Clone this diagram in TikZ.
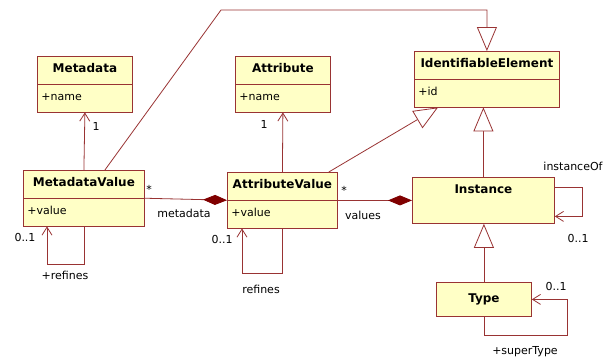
\documentclass[tikz,border=0pt]{standalone}
\usepackage{fontspec}
\setmainfont{DejaVu Sans}
\usetikzlibrary{arrows.meta,positioning,shapes.multipart,calc}
\definecolor{umlline}{HTML}{993333}
\definecolor{umlfill}{HTML}{FFFFC6}
\definecolor{umldark}{HTML}{800000}
\newcommand\umltitle[1]{{\fontsize{12}{13}\selectfont\bfseries #1}}
\newcommand\umlcls[3]{\makebox[#1][c]{\strut\umltitle{#2}}\nodepart{two}\makebox[#1][l]{\strut#3}}

\begin{document}
\begin{tikzpicture}[x=1pt,y=-1pt,font=\fontsize{11}{13}\selectfont,
  cls/.style={rectangle split,rectangle split parts=2,draw=umlline,fill=umlfill,line width=0.8pt,
    inner xsep=4pt,inner ysep=7pt,anchor=north west},
  box/.style={draw=umlline,fill=umlfill,line width=0.8pt,inner xsep=4pt,inner ysep=7pt,
    text width=#1,align=center,anchor=north west},
  gen/.style={draw=umlline,line width=0.8pt,-{Triangle[open,length=24pt,width=20pt,fill=white]}},
  nav/.style={draw=umlline,line width=0.8pt,-{Straight Barb[length=8pt,width=10pt]}},
  comp/.style={draw=umlline,line width=0.8pt,-{Diamond[length=24pt,width=10pt,color=umldark]}},
  lbl/.style={inner sep=1pt}]
  \fill[white] (0,0) rectangle (615,360);
  \useasboundingbox (0,0) rectangle (615,360);
  % classes
  \node[cls] (md) at (37,56) {\umlcls{87pt}{Metadata}{+name}};
  \node[cls] (at) at (235,56) {\umlcls{87pt}{Attribute}{+name}};
  \node[cls] (ie) at (414,51) {\umlcls{137pt}{IdentifiableElement}{+id}};
  \node[cls] (mv) at (23,170) {\umlcls{113pt}{MetadataValue}{+value}};
  \node[cls] (av) at (227,172) {\umlcls{102pt}{AttributeValue}{+value}};
  \node[box=134pt,text depth=22.9pt] (in) at (412,177) {\strut\umltitle{Instance}};
  \node[box=87pt,minimum height=34pt,inner ysep=3pt] (ty) at (436,282) {\strut\umltitle{Type}};
  % generalizations
  \coordinate (bend) at (221,10);
  \draw[gen] ($(mv.north)+(21,0)$) -- (bend) -| (ie.north);
  \draw[gen] ($(av.north east)+(-9,0)$) -- ($(ie.south west)+(24,0)$);
  \draw[gen] (in.north) -- (in.north |- ie.south);
  \draw[gen] (ty.north) -- (ty.north |- in.south);
  % associations
  \draw[nav] (mv.north) -- (md.south);
  \draw[nav] (av.north) -- (at.south);
  \draw[comp] (mv.text split east) -- (av.text split west);
  \draw[comp] (av.east |- in.west) -- (in.west);
  \draw[nav] (mv.south) -- ++(0,38) -| ($(mv.south west)+(24,0)$);
  \draw[nav] (av.south) -- ++(0,45) -| ($(av.south west)+(15,0)$);
  \draw[nav] ($(in.east)+(0,-13)$) -- ++(28,0) |- ($(in.east)+(0,16)$);
  \draw[nav] (ty.south) -- ++(0,19) -| ($(ty.east)+(36,0)$) -- (ty.east);
  % labels
  \node[lbl] (m1) at (96,126) {1};
  \node[lbl] (a1) at (264,124) {1};
  \node[lbl] (mstar) at (149,189) {*};
  \node[lbl] (mname) at (184,213) {metadata};
  \node[lbl] (vstar) at (344,190) {*};
  \node[lbl] (vname) at (363,215) {values};
  \node[lbl] (mvm) at (25,237) {0..1};
  \node[lbl] (mvr) at (65,275) {+refines};
  \node[lbl] (avm) at (222,239) {0..1};
  \node[lbl] (avr) at (261,289) {refines};
  \node[lbl] (inr) at (573,166) {instanceOf};
  \node[lbl] (inm) at (578,238) {0..1};
  \node[lbl] (tym) at (556,286) {0..1};
  \node[lbl] (tyr) at (525,352) {+superType};
\end{tikzpicture}
\end{document}
